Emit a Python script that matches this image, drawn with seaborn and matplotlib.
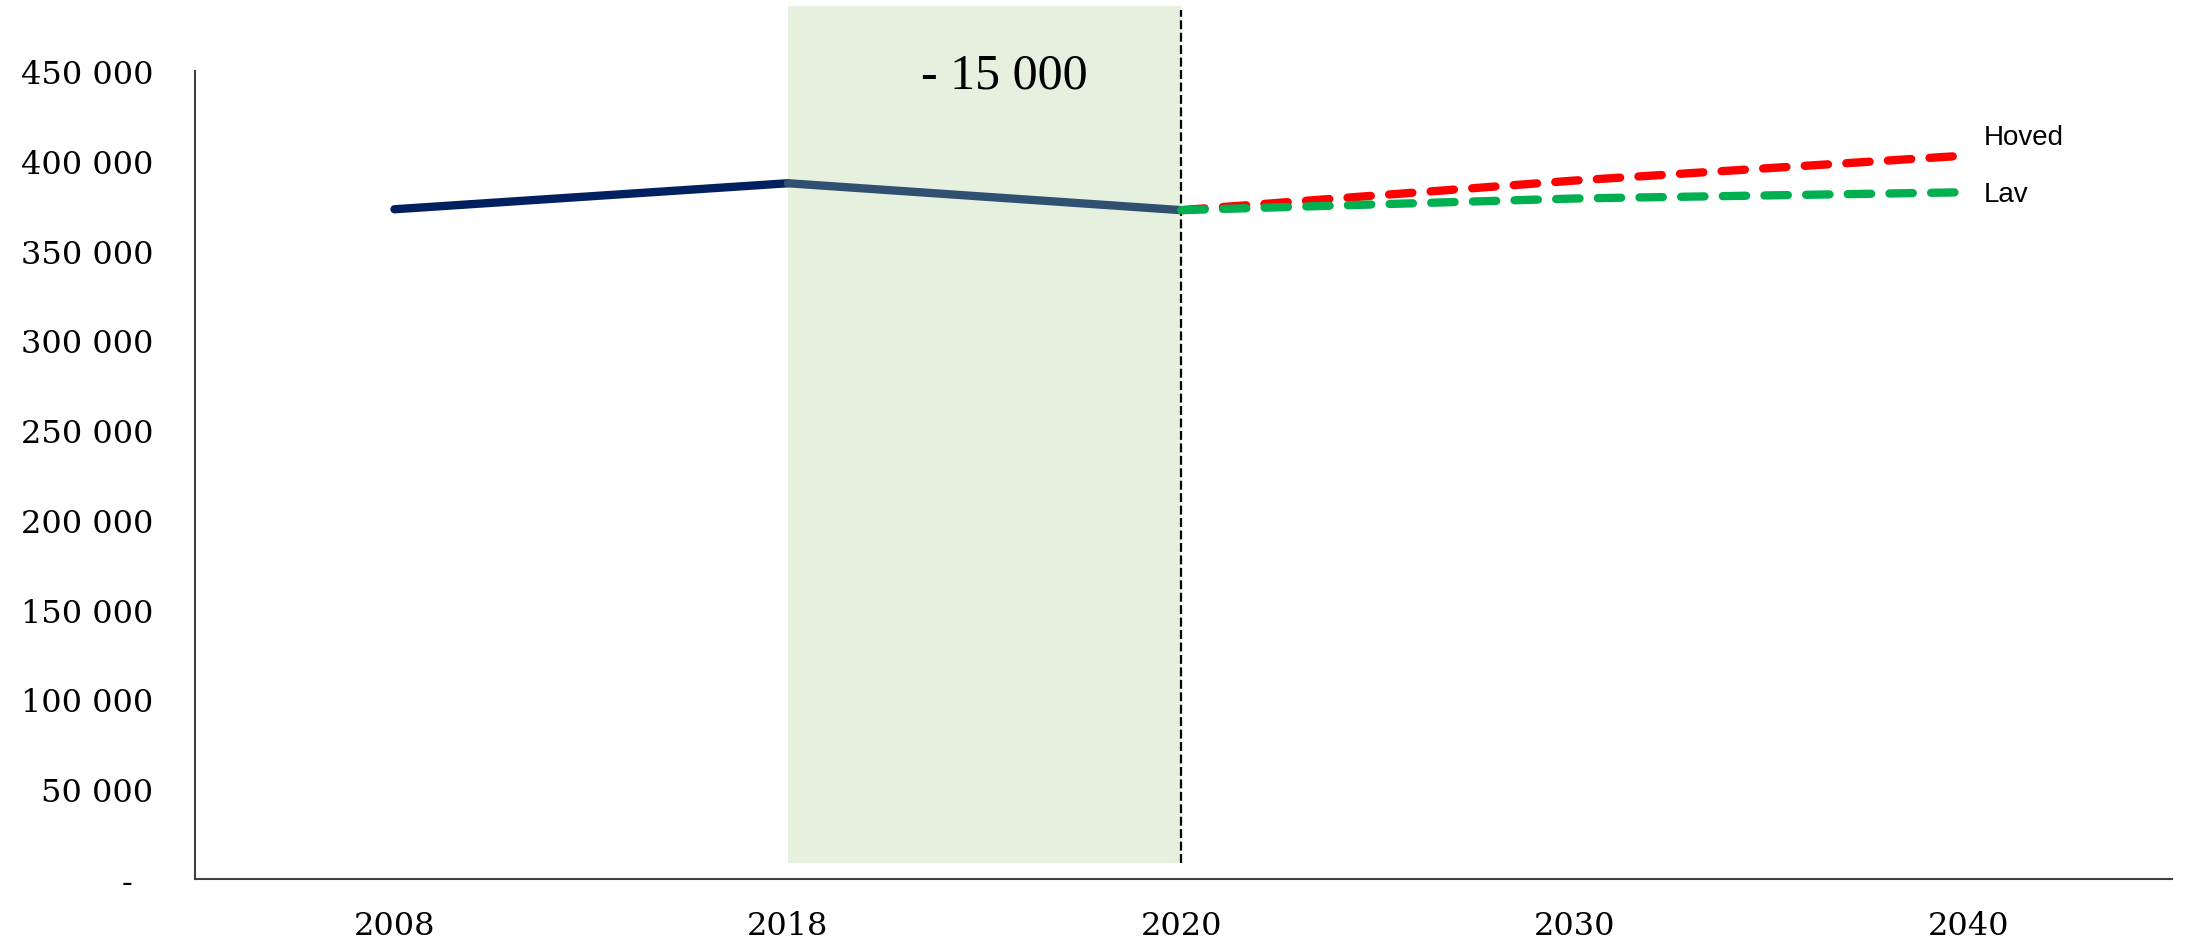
import matplotlib.pyplot as plt
import pandas as pd
import seaborn as sns
import numpy as np

# Data
years = ['2008', '2018', '2020', '2030', '2040']
hist_years = ['2008', '2018', '2020']
hist_values = [373000, 387500, 372500]
proj_years = ['2020', '2030', '2040']
hoved = [372500, 389000, 403000]
lav = [372500, 379000, 382500]
change_label = '- 15 000'
y_ticks = [0, 50000, 100000, 150000, 200000, 250000, 300000, 350000, 400000, 450000]

sns.set_style('white')
plt.rcParams['font.family'] = ['DejaVu Serif']
plt.rcParams['text.color'] = 'black'
plt.rcParams['xtick.color'] = 'black'
plt.rcParams['ytick.color'] = 'black'

pos = {y: i for i, y in enumerate(years)}
df_hist = pd.DataFrame({'x': [pos[y] for y in hist_years], 'value': hist_values})
df_proj = pd.DataFrame({'x': [pos[y] for y in proj_years] * 2,
                        'value': hoved + lav,
                        'serie': ['Hoved'] * 3 + ['Lav'] * 3})

fig = plt.figure(figsize=(21.86, 9.45), dpi=100)
ax = fig.add_axes([0.0892, 0.0688, 0.9044, 0.855])

# shaded period 2018-2020 and the dashed divider at 2020
ax.axvspan(pos['2018'], pos['2020'], ymin=0.0198, ymax=1.0805,
           color='#E5F0DF', lw=0, clip_on=False, zorder=0)
ax.axvline(pos['2020'], ymin=0.0198, ymax=1.0755, color='black', lw=1.6,
           dashes=(4, 1.6), clip_on=False, zorder=1)

# historic line, second segment a lighter shade
sns.lineplot(data=df_hist.iloc[:2], x='x', y='value', ax=ax, color='#002060',
             lw=6, solid_capstyle='round', zorder=3)
sns.lineplot(data=df_hist.iloc[1:], x='x', y='value', ax=ax, color='#2F5070',
             lw=6, solid_capstyle='round', zorder=3)

# projections
sns.lineplot(data=df_proj, x='x', y='value', hue='serie',
             palette={'Hoved': '#FF0000', 'Lav': '#00B050'},
             lw=6, dashes=False, ax=ax, legend=False, zorder=4)
for line in ax.get_lines()[-2:]:
    line.set_dashes((2.8, 2.2))
    line.set_dash_capstyle('round')

ax.text(pos['2040'] + 0.04, hoved[-1] + 10500, 'Hoved', family='Liberation Sans',
        fontsize=20, va='center', ha='left')
ax.text(pos['2040'] + 0.04, lav[-1] - 1000, 'Lav', family='Liberation Sans',
        fontsize=20, va='center', ha='left')
ax.text(1.55, 447600, change_label, family='Liberation Serif', fontsize=36,
        ha='center', va='center')

ax.set_xlim(-0.507, 4.518)
ax.set_ylim(0, 450000)
ax.set_xticks(range(len(years)))
ax.set_xticklabels(years)
ax.set_yticks(y_ticks)
ax.set_yticklabels(['-  '] + [f'{v:,}'.replace(',', ' ') for v in y_ticks[1:]])
ax.tick_params(axis='y', length=0, pad=30, labelsize=23)
ax.tick_params(axis='x', length=0, pad=22, labelsize=23)
ax.set_xlabel('')
ax.set_ylabel('')

for s in ['top', 'right']:
    ax.spines[s].set_visible(False)
for s in ['left', 'bottom']:
    ax.spines[s].set_color('#404040')
    ax.spines[s].set_linewidth(1.5)

fig.savefig('out.png', dpi=100)
